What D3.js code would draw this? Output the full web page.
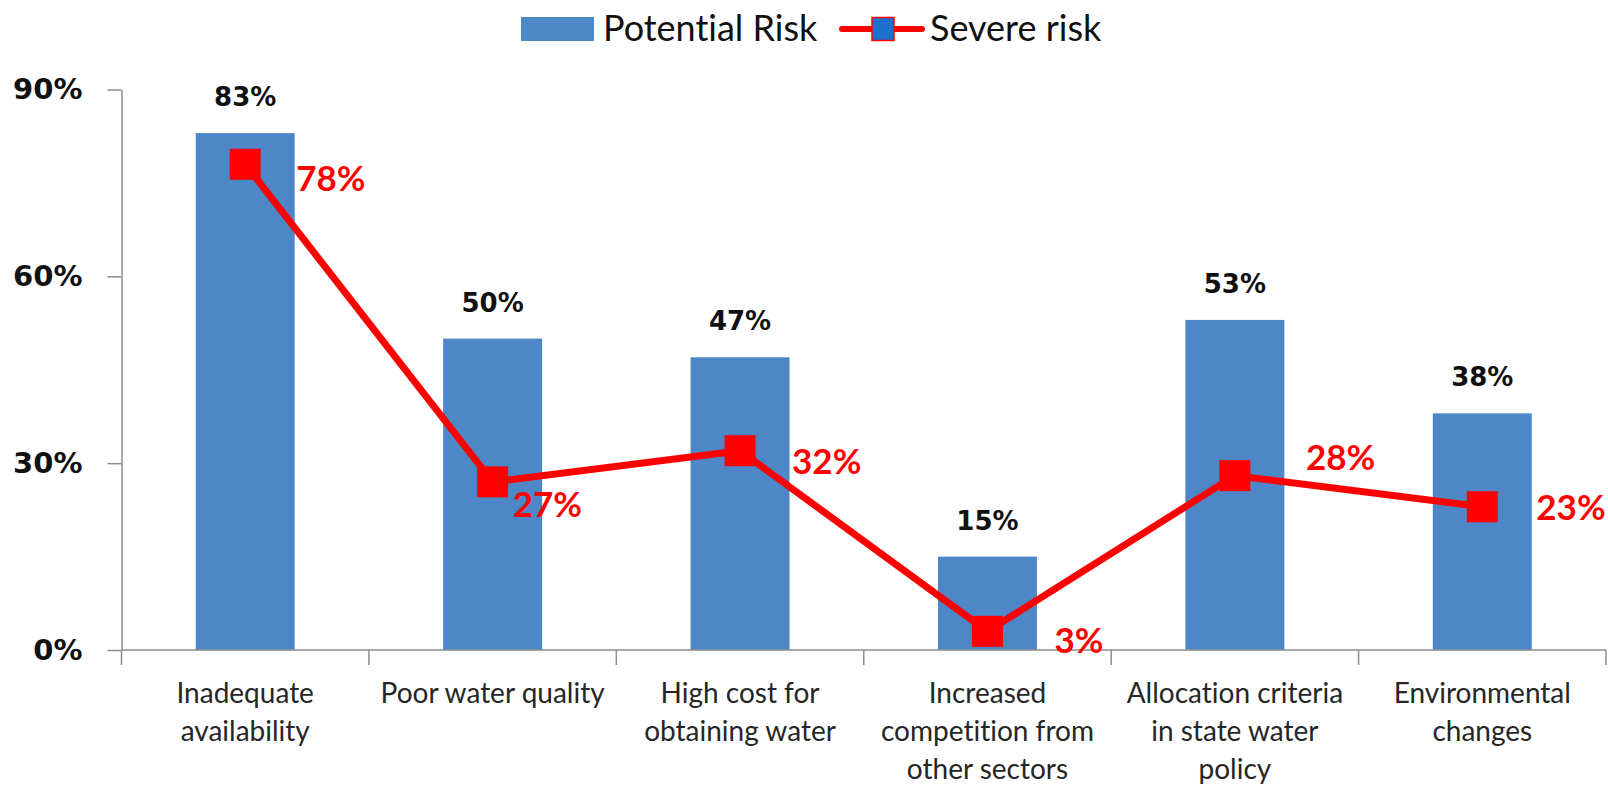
<!DOCTYPE html>
<html>
<head>
<meta charset="utf-8">
<script src="https://cdn.jsdelivr.net/npm/d3@7"></script>
<style>
  html, body { margin: 0; padding: 0; background: #ffffff; }
  svg { display: block; }
  text { font-variant-ligatures: none; font-feature-settings: "liga" 0, "clig" 0; }
</style>
</head>
<body>
<svg id="chart" width="1608" height="786"></svg>
<script>
// Risk categories (each entry is the wrapped label, one string per line)
const categories = [
  ["Inadequate", "availability"],
  ["Poor water quality"],
  ["High cost for", "obtaining water"],
  ["Increased", "competition from", "other sectors"],
  ["Allocation criteria", "in state water", "policy"],
  ["Environmental", "changes"]
];
// Share of respondents (%)
const potentialRisk = [83, 50, 47, 15, 53, 38];
const severeRisk = [78, 27, 32, 3, 28, 23];
// Y axis ticks (%)
const yTicks = [0, 30, 60, 90];
const seriesNames = ["Potential Risk", "Severe risk"];

const BAR = "#4d87c7";
const RED = "#ff0000";
const AXIS = "#8c8c8c";

const svg = d3.select("#chart");
const keys = categories.map((c, i) => "c" + i);

const x = d3.scaleBand()
  .domain(keys)
  .range([121.5, 1606])
  .paddingInner(0.6)
  .paddingOuter(0.3);
const y = d3.scaleLinear().domain([0, 90]).range([650, 89.5]);
const step = x.step();
const cx = i => x(keys[i]) + x.bandwidth() / 2;

// Y axis
const yAxis = svg.append("g")
  .attr("transform", "translate(121.5,0)")
  .call(d3.axisLeft(y).tickValues(yTicks).tickFormat(d => d + "%")
    .tickSize(14).tickSizeOuter(0).tickPadding(25));
yAxis.select(".domain").attr("stroke", AXIS).attr("stroke-width", 1.5);
yAxis.selectAll(".tick line").attr("stroke", AXIS).attr("stroke-width", 1.5);
yAxis.selectAll(".tick text")
  .attr("font-family", "DejaVu Sans")
  .attr("font-weight", "bold")
  .attr("font-size", 29)
  .attr("fill", "#111");

// Bars
svg.append("g").selectAll("rect")
  .data(potentialRisk)
  .join("rect")
  .attr("x", (d, i) => x(keys[i]))
  .attr("width", x.bandwidth())
  .attr("y", d => y(d))
  .attr("height", d => y(0) - y(d))
  .attr("fill", BAR);

// X axis: baseline and category boundary ticks
const xAxis = svg.append("g");
xAxis.append("line")
  .attr("x1", 121.5).attr("x2", 1606)
  .attr("y1", y(0)).attr("y2", y(0))
  .attr("stroke", AXIS).attr("stroke-width", 1.5);
const bounds = keys.map(k => x(k) - step * x.paddingInner() / 2)
  .concat([x(keys[keys.length - 1]) + x.bandwidth() + step * x.paddingInner() / 2]);
xAxis.selectAll("line.tick")
  .data(bounds)
  .join("line")
  .attr("class", "tick")
  .attr("x1", d => d).attr("x2", d => d)
  .attr("y1", y(0)).attr("y2", y(0) + 15)
  .attr("stroke", AXIS).attr("stroke-width", 1.5);

// Category labels
const catG = svg.append("g")
  .attr("font-family", "Lato")
  .attr("font-size", 28)
  .attr("fill", "#262626")
  .attr("text-anchor", "middle");
categories.forEach((lines, i) => {
  const t = catG.append("text").attr("x", cx(i)).attr("y", 703);
  lines.forEach((ln, j) => {
    t.append("tspan").attr("x", cx(i)).attr("dy", j === 0 ? 0 : 38).text(ln);
  });
});

// Bar value labels
svg.append("g").selectAll("text")
  .data(potentialRisk)
  .join("text")
  .attr("x", (d, i) => cx(i))
  .attr("y", d => y(d) - 27)
  .attr("text-anchor", "middle")
  .attr("font-family", "DejaVu Sans")
  .attr("font-weight", "bold")
  .attr("font-size", 26)
  .attr("fill", "#111")
  .text(d => d + "%");

// Severe risk line and markers
const line = d3.line().x((d, i) => cx(i)).y(d => y(d));
svg.append("path")
  .datum(severeRisk)
  .attr("d", line)
  .attr("fill", "none")
  .attr("stroke", RED)
  .attr("stroke-width", 7)
  .attr("stroke-linejoin", "round");
const M = 31;
svg.append("g").selectAll("rect")
  .data(severeRisk)
  .join("rect")
  .attr("x", (d, i) => cx(i) - M / 2)
  .attr("y", d => y(d) - M / 2)
  .attr("width", M).attr("height", M)
  .attr("fill", RED);

// Severe risk value labels, each nudged clear of the line
const labelNudge = [[51, 27], [20, 35], [52, 23], [67, 22], [71, -6], [54, 13]];
svg.append("g").selectAll("text")
  .data(severeRisk)
  .join("text")
  .attr("x", (d, i) => cx(i) + labelNudge[i][0])
  .attr("y", (d, i) => y(d) + labelNudge[i][1])
  .attr("font-family", "Lato")
  .attr("font-weight", 700)
  .attr("font-size", 35)
  .attr("fill", RED)
  .text(d => d + "%");

// Legend
const lg = svg.append("g").attr("font-family", "Lato").attr("font-size", 36).attr("fill", "#111");
lg.append("rect").attr("x", 521).attr("y", 17).attr("width", 73).attr("height", 24).attr("fill", BAR);
lg.append("text").attr("x", 603).attr("y", 41).text(seriesNames[0]);
lg.append("line").attr("x1", 842).attr("x2", 922).attr("y1", 29).attr("y2", 29)
  .attr("stroke", RED).attr("stroke-width", 6).attr("stroke-linecap", "round");
lg.append("rect").attr("x", 872).attr("y", 17.5).attr("width", 22).attr("height", 23)
  .attr("fill", "#1f6fd0").attr("stroke", RED).attr("stroke-width", 1.5);
lg.append("text").attr("x", 930).attr("y", 41).text(seriesNames[1]);
</script>
</body>
</html>
